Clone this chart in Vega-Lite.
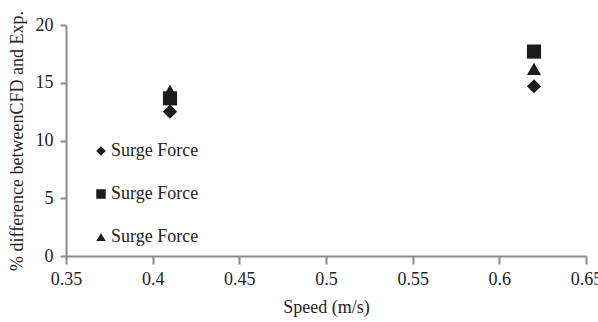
{
  "$schema": "https://vega.github.io/schema/vega-lite/v6.json",
  "width": 520,
  "height": 231,
  "autosize": "none",
  "padding": {"left": 66, "top": 25, "right": 12, "bottom": 66},
  "background": "white",
  "config": {
    "view": {"stroke": null},
    "font": "Liberation Serif"
  },
  "data": {
    "values": [
      {"speed": 0.41, "diff": 12.5, "series": "A"},
      {"speed": 0.62, "diff": 14.7, "series": "A"},
      {"speed": 0.41, "diff": 13.65, "series": "B"},
      {"speed": 0.62, "diff": 17.7, "series": "B"},
      {"speed": 0.41, "diff": 14.3, "series": "C"},
      {"speed": 0.62, "diff": 16.2, "series": "C"}
    ]
  },
  "mark": {"type": "point", "filled": true, "opacity": 1, "size": 200, "color": "#1c1c1c"},
  "encoding": {
    "x": {
      "field": "speed", "type": "quantitative",
      "scale": {"domain": [0.35, 0.65], "nice": false, "zero": false},
      "axis": {
        "values": [0.35, 0.4, 0.45, 0.5, 0.55, 0.6, 0.65],
        "format": ".2~f",
        "grid": false,
        "title": "Speed (m/s)",
        "titleFont": "Liberation Serif", "titleFontWeight": "normal", "titleFontSize": 18, "titleColor": "#222",
        "titlePadding": 10,
        "labelFont": "Liberation Serif", "labelFontSize": 18, "labelColor": "#222", "labelPadding": 6,
        "domainColor": "#8a8a8a", "domainWidth": 2,
        "tickColor": "#8a8a8a", "tickWidth": 2, "tickSize": 8,
        "labelFlush": false, "labelOverlap": false
      }
    },
    "y": {
      "field": "diff", "type": "quantitative",
      "scale": {"domain": [0, 20], "nice": false},
      "axis": {
        "values": [0, 5, 10, 15, 20],
        "grid": false,
        "title": "% difference betweenCFD and Exp.",
        "titleFont": "Liberation Serif", "titleFontWeight": "normal", "titleFontSize": 18, "titleColor": "#222",
        "titlePadding": 9,
        "labelFont": "Liberation Serif", "labelFontSize": 18, "labelColor": "#222", "labelPadding": 7,
        "domainColor": "#8a8a8a", "domainWidth": 2,
        "tickColor": "#8a8a8a", "tickWidth": 2, "tickSize": 6
      }
    },
    "shape": {
      "field": "series", "type": "nominal",
      "scale": {"domain": ["A", "B", "C"], "range": ["diamond", "square", "triangle-up"]},
      "legend": {
        "title": null,
        "orient": "none",
        "legendX": 26,
        "legendY": 117,
        "labelExpr": "'Surge Force'",
        "labelFont": "Liberation Serif", "labelFontSize": 18, "labelColor": "#222",
        "symbolSize": 90, "symbolFillColor": "#1c1c1c", "symbolStrokeColor": "#1c1c1c",
        "symbolStrokeWidth": 0,
        "rowPadding": 25,
        "labelOffset": 1
      }
    }
  }
}
